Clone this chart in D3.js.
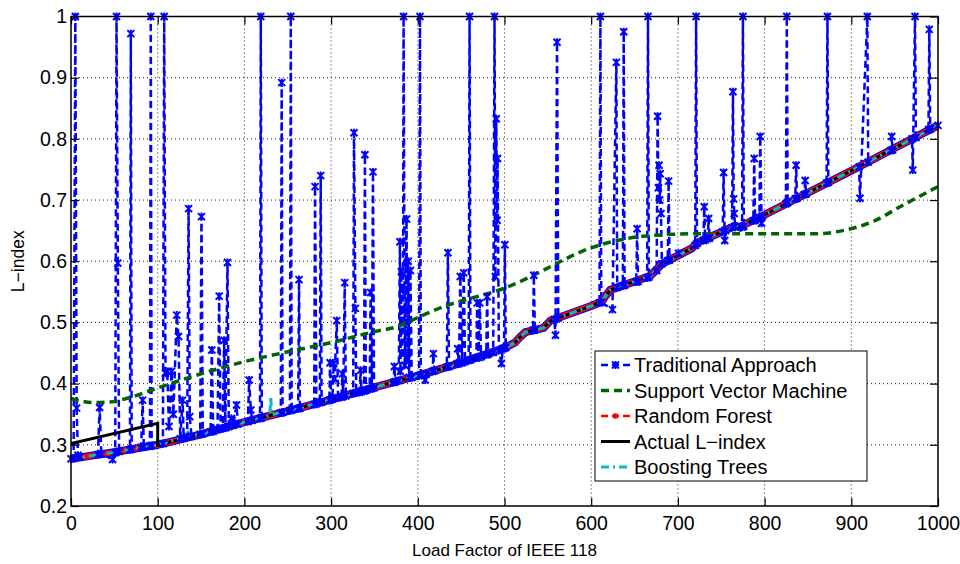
<!DOCTYPE html>
<html>
<head>
<meta charset="utf-8">
<script src="https://cdn.jsdelivr.net/npm/d3@7"></script>
<style>
body { margin: 0; background: #fff; }
svg text { font-family: "Liberation Sans", Arial, sans-serif; fill: #000; }
</style>
</head>
<body>
<svg id="chart" width="960" height="564"></svg>
<script>
// axis ticks
const xTicks = [0, 100, 200, 300, 400, 500, 600, 700, 800, 900, 1000]
const yTicks = [0.2, 0.3, 0.4, 0.5, 0.6, 0.7, 0.8, 0.9, 1]

const seriesNames = ['Traditional Approach', 'Support Vector Machine', 'Random Forest', 'Actual L\u2212index', 'Boosting Trees']

// shared predicted curve (random forest / actual after load factor 100)
const baseX = [0, 50, 100, 150, 200, 250, 300, 350, 400, 450, 500, 512, 518, 524, 545, 549, 553, 600, 612, 617, 622, 668, 675, 682, 716, 720, 725, 766, 772, 778, 800, 850, 900, 950, 1000]
const baseY = [0.277, 0.288, 0.300, 0.317, 0.337, 0.355, 0.374, 0.394, 0.413, 0.434, 0.458, 0.467, 0.476, 0.484, 0.491, 0.497, 0.503, 0.527, 0.534, 0.544, 0.553, 0.576, 0.586, 0.596, 0.621, 0.627, 0.632, 0.658, 0.655, 0.661, 0.676, 0.712, 0.748, 0.785, 0.822]

// actual L-index
const actualX = [0, 100, 100, 150, 200, 250, 300, 350, 400, 450, 500, 512, 518, 524, 545, 549, 553, 600, 612, 617, 622, 668, 675, 682, 716, 720, 725, 766, 772, 778, 800, 850, 900, 950, 1000]
const actualY = [0.302, 0.335, 0.300, 0.317, 0.337, 0.355, 0.374, 0.394, 0.413, 0.434, 0.458, 0.467, 0.476, 0.484, 0.491, 0.497, 0.503, 0.527, 0.534, 0.544, 0.553, 0.576, 0.586, 0.596, 0.621, 0.627, 0.632, 0.658, 0.655, 0.661, 0.676, 0.712, 0.748, 0.785, 0.822]

// boosting trees (few small deviations)
const boostX = [0, 50, 100, 133, 134.4, 136, 150, 184, 185, 186, 200, 229.4, 230.4, 231.4, 250, 300, 350, 400, 450, 473, 474, 475, 500, 512, 518, 524, 545, 549, 553, 600, 612, 617, 622, 668, 675, 682, 716, 720, 725, 766, 772, 778, 800, 850, 900, 950, 1000]
const boostY = [0.277, 0.288, 0.300, 0.313, 0.325, 0.314, 0.317, 0.331, 0.346, 0.332, 0.337, 0.348, 0.379, 0.349, 0.355, 0.374, 0.394, 0.413, 0.434, 0.444, 0.437, 0.445, 0.458, 0.467, 0.476, 0.484, 0.491, 0.497, 0.503, 0.527, 0.534, 0.544, 0.553, 0.576, 0.586, 0.596, 0.621, 0.627, 0.632, 0.658, 0.655, 0.661, 0.676, 0.712, 0.748, 0.785, 0.822]

// support vector machine
const svmX = [0, 10, 25, 45, 65, 100, 150, 200, 250, 300, 350, 376, 403, 430, 450, 500, 550, 565, 600, 634, 660, 680, 720, 800, 860, 890, 925, 960, 1000]
const svmY = [0.376, 0.372, 0.369, 0.370, 0.376, 0.393, 0.416, 0.436, 0.452, 0.467, 0.485, 0.493, 0.510, 0.526, 0.535, 0.556, 0.589, 0.600, 0.622, 0.635, 0.641, 0.643, 0.645, 0.645, 0.645, 0.650, 0.665, 0.692, 0.722]

// traditional approach [load factor, L-index]
const tradPoints = [
  [0,0.277],[3,0.278],[5,1.0],[6.5,0.36],[8,0.283],[10,0.280],
  [31,0.284],[33,0.361],[35,0.285],
  [48,0.276],[51,0.287],[52.5,1.0],[54,0.597],[55.5,0.289],
  [68,0.292],[69,0.972],[70,0.293],
  [81,0.296],[82.6,0.373],[84,0.297],
  [91,0.298],[92,1.0],[93,0.299],
  [106,0.302],[107.5,1.0],[109,0.417],[111,0.42],[113,0.33],[116,0.42],[118,0.35],[122,0.512],[124,0.477],[126,0.31],[128.7,0.373],[130,0.311],
  [134,0.313],[135.6,0.686],[137,0.346],[139,0.314],
  [149,0.317],[150.5,0.673],[152,0.318],
  [161,0.321],[162.4,0.455],[164,0.322],
  [169,0.325],[170.9,0.543],[172.5,0.326],[175,0.327],[176.6,0.471],[178,0.328],[180.5,0.598],[182,0.330],
  [185,0.343],[187,0.332],[190.9,0.365],[192.5,0.334],
  [204,0.338],[205.5,0.406],[207.4,0.357],[209,0.340],
  [218,0.343],[218.9,1.0],[220,0.344],
  [242,0.352],[243,0.892],[244,0.353],
  [252.5,0.356],[253.5,1.0],[254.5,0.357],
  [262,0.359],[263,0.57],[264,0.360],
  [280.5,0.366],[281.5,0.722],[283,0.367],
  [287,0.369],[288,0.740],[289,0.370],
  [298,0.373],[298.8,0.434],[300,0.374],
  [301.5,0.375],[303,0.433],[304,0.408],[306.5,0.503],[308,0.377],
  [312,0.378],[313,0.416],[314,0.379],[315.7,0.565],[317,0.380],
  [325.5,0.384],[326.4,0.81],[328,0.523],[329,0.385],
  [333,0.386],[334,0.422],[335,0.387],
  [338,0.388],[339,0.774],[340,0.389],
  [344.5,0.391],[345.6,0.549],[347,0.392],[348.3,0.746],[349.5,0.393],
  [372,0.402],[373,0.428],[374,0.403],
  [378,0.405],[379.4,0.632],[380,0.42],[381,0.583],[382,0.45],[383,0.553],[383.6,1.0],[385,0.43],[386,0.52],[387,0.669],[388,0.44],[389,0.60],[390,0.41],[391.5,0.585],[393,0.410],
  [401.5,0.413],[402.5,1.0],[403.5,0.414],
  [408.5,0.406],[410,0.416],
  [417,0.420],[418,0.449],[419,0.421],
  [433.5,0.427],[434.7,0.614],[436,0.428],
  [445,0.432],[446,0.457],[447.5,0.433],[449,0.575],[451,0.434],[453,0.581],[454.5,0.436],
  [458.7,0.438],[459.7,1.0],[460.7,0.439],
  [467.5,0.442],[468.5,0.532],[470,0.443],[471.5,0.532],[473,0.444],
  [479,0.447],[480,0.542],[481,0.448],
  [487,0.451],[488.5,1.0],[489.5,0.575],[490.5,0.833],[491.5,0.667],[492,0.768],[493.5,0.454],
  [496.5,0.433],[498,0.457],
  [499.5,0.458],[500.4,0.627],[501.5,0.459],
  [533,0.487],[533.8,0.577],[535,0.488],
  [557.5,0.505],[558.8,0.479],[560.6,0.958],[562,0.507],
  [609.6,0.532],[610.6,1.0],[611.6,0.533],
  [624.5,0.521],[629,0.925],[630,0.557],
  [636.5,0.560],[637.5,0.975],[638.5,0.561],
  [652,0.566],[653,0.653],[654,0.567],
  [664.5,0.573],[665.5,1.0],[666.5,0.574],
  [675.5,0.585],[676.6,0.837],[677.5,0.72],[678.2,0.757],[679,0.70],[679.6,0.743],[680.5,0.678],[681.5,0.596],
  [688.3,0.601],[689.3,0.731],[690.3,0.602],
  [700.8,0.613],
  [720,0.626],[721,1.0],[722,0.629],
  [729.4,0.634],[730.4,0.689],[731.5,0.635],[734.5,0.637],[735.4,0.67],[736.5,0.638],
  [751.7,0.648],[752.7,0.745],[754,0.634],[755,0.650],
  [762.5,0.655],[763.5,0.877],[764.3,0.702],[765,0.678],[766,0.657],
  [774,0.656],[775,1.0],[776,0.657],
  [787,0.666],[788,0.768],[789,0.667],
  [794,0.671],[795,0.804],[796.5,0.662],[797.5,0.674],
  [824.6,0.694],[825.6,1.0],[826.6,0.696],
  [835.4,0.702],[836.4,0.757],[837.4,0.703],
  [845.8,0.709],[846.8,0.732],[847.8,0.710],
  [871.5,0.728],[872.5,1.0],[873.5,0.729],
  [909,0.754],[910,0.703],[918.5,1.0],[919.5,0.762],
  [945.6,0.781],[946.6,0.804],[947.6,0.782],
  [970,0.800],[970.9,0.749],[973.5,1.0],[974.5,0.802],
  [989,0.815],[990,0.979],[991,0.816],
  [1000,0.822]
]

const colors = { trad: '#0000ff', svm: '#006400', rf: '#ff0000', actual: '#000000', boost: '#00bfbf' }

const svg = d3.select('#chart')
const plotLeft = 71, plotRight = 938, plotTop = 16.5, plotBottom = 506

const x = d3.scaleLinear().domain([0, 1000]).range([plotLeft, plotRight])
const y = d3.scaleLinear().domain([0.2, 1]).range([plotBottom, plotTop])

const zip = (xs, ys) => xs.map((v, i) => [v, ys[i]])
const line = d3.line().x(d => x(d[0])).y(d => y(d[1]))

// grid
const grid = svg.append('g')
grid.selectAll('line.vx')
    .data(xTicks.slice(1, -1))
    .enter().append('line')
    .attr('x1', d => x(d)).attr('x2', d => x(d))
    .attr('y1', plotTop).attr('y2', plotBottom)
grid.selectAll('line.hy')
    .data(yTicks.slice(1, -1))
    .enter().append('line')
    .attr('x1', plotLeft).attr('x2', plotRight)
    .attr('y1', d => y(d)).attr('y2', d => y(d))
grid.selectAll('line')
    .style('stroke', '#222')
    .style('stroke-width', 1)
    .style('stroke-dasharray', '1,3')

// clip for lines
svg.append('clipPath').attr('id', 'plot')
    .append('rect').attr('x', plotLeft).attr('y', plotTop - 1).attr('width', plotRight - plotLeft).attr('height', plotBottom - plotTop + 1)

const plot = svg.append('g').attr('clip-path', 'url(#plot)')

// traditional approach: points follow the predicted curve between spikes
plot.append('path')
    .attr('d', line(zip(baseX, baseY)))
    .style('fill', 'none').style('stroke', colors.trad).style('stroke-width', 8)

plot.append('path')
    .attr('d', line(tradPoints))
    .style('fill', 'none').style('stroke', colors.trad).style('stroke-width', 2.5)
    .style('stroke-dasharray', '7,4')

const xMark = 'M-3.5,-3.5L3.5,3.5M-3.5,3.5L3.5,-3.5M0,-4L0,4'
svg.append('g').selectAll('path')
    .data(tradPoints)
    .enter().append('path')
    .attr('transform', d => `translate(${x(d[0])},${y(d[1])})`)
    .attr('d', xMark)
    .style('stroke', colors.trad).style('stroke-width', 2).style('fill', 'none')

// support vector machine
plot.append('path')
    .attr('d', d3.line().x(d => x(d[0])).y(d => y(d[1])).curve(d3.curveMonotoneX)(zip(svmX, svmY)))
    .style('fill', 'none').style('stroke', colors.svm).style('stroke-width', 3.5)
    .style('stroke-dasharray', '8,5')

// random forest
plot.append('path')
    .attr('d', line(zip(baseX, baseY)))
    .style('fill', 'none').style('stroke', colors.rf).style('stroke-width', 6)
    .style('stroke-linejoin', 'round')

// actual
plot.append('path')
    .attr('d', line(zip(actualX, actualY)))
    .style('fill', 'none').style('stroke', colors.actual).style('stroke-width', 3)

// boosting trees
plot.append('path')
    .attr('d', line(zip(boostX, boostY)))
    .style('fill', 'none').style('stroke', colors.boost).style('stroke-width', 3)
    .style('stroke-dasharray', '8,4,2,4')

// axes
const axisStyle = g => {
    g.select('.domain').remove()
    g.selectAll('.tick line').style('stroke', '#000').style('stroke-width', 1.2)
    g.selectAll('.tick text').style('font-size', '19.5px').style('font-family', '"Liberation Sans", Arial, sans-serif')
}
const fmtY = d => d3.format('.1f')(d).replace(/\.0$/, '')

svg.append('g').attr('transform', `translate(0,${plotBottom})`)
    .call(d3.axisBottom(x).tickValues(xTicks).tickSize(-8).tickPadding(10).tickFormat(d3.format('d')))
    .call(axisStyle)
svg.append('g').attr('transform', `translate(0,${plotTop})`)
    .call(d3.axisTop(x).tickValues(xTicks).tickSize(-8).tickFormat(''))
    .call(axisStyle)
svg.append('g').attr('transform', `translate(${plotLeft},0)`)
    .call(d3.axisLeft(y).tickValues(yTicks).tickSize(-8).tickPadding(4).tickFormat(fmtY))
    .call(axisStyle)
svg.append('g').attr('transform', `translate(${plotRight},0)`)
    .call(d3.axisRight(y).tickValues(yTicks).tickSize(-8).tickFormat(''))
    .call(axisStyle)

svg.append('rect')
    .attr('x', plotLeft).attr('y', plotTop).attr('width', plotRight - plotLeft).attr('height', plotBottom - plotTop)
    .style('fill', 'none').style('stroke', '#000').style('stroke-width', 1.5)

// axis labels
svg.append('text')
    .attr('x', (plotLeft + plotRight) / 2).attr('y', 552)
    .attr('text-anchor', 'middle').attr('dominant-baseline', 'middle')
    .style('font-size', '17px')
    .text('Load Factor of IEEE 118')
svg.append('text')
    .attr('transform', `translate(19,${(plotTop + plotBottom) / 2}) rotate(-90)`)
    .attr('text-anchor', 'middle').attr('dominant-baseline', 'middle')
    .style('font-size', '17.5px')
    .text('L\u2212index')

// legend
const legend = svg.append('g')
legend.append('rect')
    .attr('x', 595).attr('y', 351).attr('width', 272).attr('height', 130)
    .style('fill', '#fff').style('stroke', '#000').style('stroke-width', 1)

const legendStyles = [
    { color: colors.trad, dash: '7,4', width: 2.5, mark: 'x' },
    { color: colors.svm, dash: '8,5', width: 3.5 },
    { color: colors.rf, dash: '7,4', width: 2.5, mark: 'dot' },
    { color: colors.actual, dash: null, width: 3 },
    { color: colors.boost, dash: '8,4,2,4', width: 3 }
]
const legendY = d3.scalePoint().domain(seriesNames).range([365, 467])

seriesNames.forEach((name, i) => {
    const st = legendStyles[i]
    const ly = legendY(name)
    legend.append('line')
        .attr('x1', 601).attr('x2', 630).attr('y1', ly).attr('y2', ly)
        .style('stroke', st.color).style('stroke-width', st.width)
        .style('stroke-dasharray', st.dash)
    if (st.mark === 'x') legend.append('path')
        .attr('transform', `translate(615.5,${ly})`).attr('d', xMark)
        .style('stroke', st.color).style('stroke-width', 2)
    if (st.mark === 'dot') legend.append('circle')
        .attr('cx', 615.5).attr('cy', ly).attr('r', 2.8).style('fill', st.color)
    legend.append('text')
        .attr('x', 634).attr('y', ly).attr('dy', '0.36em')
        .style('font-size', '20px')
        .text(name)
})
</script>
</body>
</html>
